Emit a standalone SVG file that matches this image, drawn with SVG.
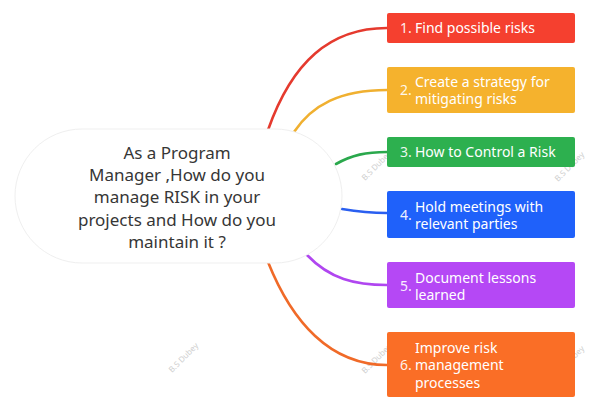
<svg xmlns="http://www.w3.org/2000/svg" width="609" height="410" viewBox="0 0 609 410">
<style>
.wm{font-family:"Noto Sans","Open Sans",sans-serif;font-size:8px;fill:#cfcfcf}
.ct{font-family:"Noto Sans","Open Sans",sans-serif;font-size:17px;fill:#363636;text-anchor:middle}
.bt{font-family:"Noto Sans","Open Sans",sans-serif;font-size:14px;fill:#ffffff}
.num{font-family:"Noto Sans","Open Sans",sans-serif;font-size:14px;fill:#ffffff;fill-opacity:0.92}
.cn{fill:none;stroke-width:2.6;stroke-linecap:round}
</style>
<rect width="609" height="410" fill="#ffffff"/>
<g id="watermarks">
<text class="wm" transform="translate(365,181) rotate(-45)">B.S Dubey</text>
<text class="wm" transform="translate(558,182) rotate(-45)">B.S Dubey</text>
<text class="wm" transform="translate(172,373) rotate(-45)">B.S Dubey</text>
<text class="wm" transform="translate(365,374) rotate(-45)">B.S Dubey</text>
<text class="wm" transform="translate(558,376) rotate(-45)">B.S Dubey</text>
</g>
<g id="connectors">
<path class="cn" stroke="#e53a2e" d="M268,130 C292,62 330,28 387,28"/>
<path class="cn" stroke="#f0b030" d="M294,132 C312,105 340,90 387,90"/>
<path class="cn" stroke="#2aa84c" d="M336,164 C352,155 366,152 387,152"/>
<path class="cn" stroke="#2a5ff0" d="M342,209 C360,212 372,213 387,213"/>
<path class="cn" stroke="#b046f0" d="M307,255 C330,279 355,285 387,285"/>
<path class="cn" stroke="#f06a28" d="M268,262 C292,322 330,365 387,365"/>
</g>
<g id="center">
<rect x="15" y="129" width="327" height="134" rx="67" ry="67" fill="#ffffff" stroke="#efefef" stroke-width="1"/>
<text class="ct" x="177" y="159">As a Program</text>
<text class="ct" x="177" y="181">Manager ,How do you</text>
<text class="ct" x="177" y="203">manage RISK in your</text>
<text class="ct" x="177" y="226">projects and How do you</text>
<text class="ct" x="177" y="248">maintain it ?</text>
</g>
<g id="n1">
<rect x="387" y="13" width="188" height="30" rx="2" fill="#f5402f"/>
<text class="num" x="400" y="33">1.</text>
<text class="bt" x="415" y="33">Find possible risks</text>
</g>
<g id="n2">
<rect x="387" y="67" width="188" height="46" rx="2" fill="#f5b22d"/>
<text class="num" x="400" y="95">2.</text>
<text class="bt" x="415" y="87">Create a strategy for</text>
<text class="bt" x="415" y="104">mitigating risks</text>
</g>
<g id="n3">
<rect x="387" y="137" width="188" height="30" rx="2" fill="#2db04f"/>
<text class="num" x="400" y="157">3.</text>
<text class="bt" x="415" y="157">How to Control a Risk</text>
</g>
<g id="n4">
<rect x="387" y="191" width="188" height="47" rx="2" fill="#1f61fa"/>
<text class="num" x="400" y="220">4.</text>
<text class="bt" x="415" y="212">Hold meetings with</text>
<text class="bt" x="415" y="229">relevant parties</text>
</g>
<g id="n5">
<rect x="387" y="262" width="188" height="46" rx="2" fill="#b548f5"/>
<text class="num" x="400" y="291">5.</text>
<text class="bt" x="415" y="283">Document lessons</text>
<text class="bt" x="415" y="300">learned</text>
</g>
<g id="n6">
<rect x="387" y="332" width="188" height="65" rx="2" fill="#fa6e26"/>
<text class="num" x="400" y="370">6.</text>
<text class="bt" x="415" y="353">Improve risk</text>
<text class="bt" x="415" y="370">management</text>
<text class="bt" x="415" y="388">processes</text>
</g>
</svg>
